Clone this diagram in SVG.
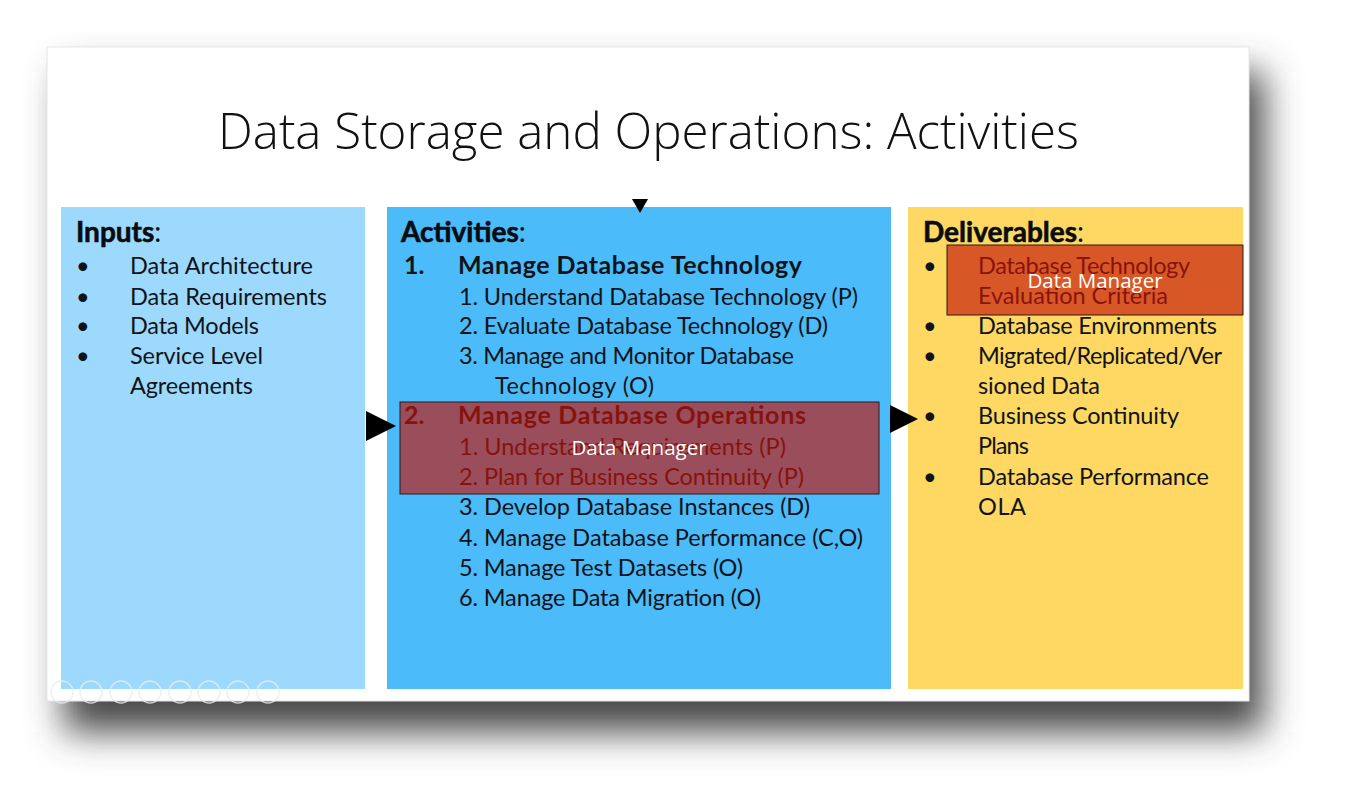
<svg xmlns="http://www.w3.org/2000/svg" width="1345" height="797" viewBox="0 0 1345 797">
<defs>
<filter id="sh" x="-10%" y="-10%" width="120%" height="130%">
<feGaussianBlur stdDeviation="18"/>
</filter>
<style>
.t{font-family:Lato,"Liberation Sans",sans-serif;font-size:23.5px;fill:#101418}
.h{font-family:Lato,"Liberation Sans",sans-serif;font-size:28px;fill:#0a0c10}
.b{font-weight:bold}
.bb{font-weight:bold;font-size:25px}
.dm{font-family:"Open Sans","Liberation Sans",sans-serif;font-size:20.5px;fill:#ffffff;text-anchor:middle}
.ov{fill:rgb(196,20,8);fill-opacity:0.66;stroke:#2a1a1a;stroke-width:1}
.ic{fill:none;stroke:#e8eef2;stroke-width:1.5;opacity:0.8}
</style>
</defs>
<rect x="0" y="0" width="1345" height="797" fill="#ffffff"/>
<rect x="64" y="72" width="1200" height="660" fill="#4a4a4a" filter="url(#sh)"/>
<rect x="47" y="47" width="1202" height="654" fill="#ffffff" stroke="#e6e6e6" stroke-width="1"/>
<text x="218" y="149" font-family="'Open Sans','Liberation Sans',sans-serif" font-weight="300" font-size="49" fill="#111" textLength="861" lengthAdjust="spacingAndGlyphs">Data Storage and Operations: Activities</text>

<g id="inputs">
<rect x="61" y="207" width="304" height="482" fill="#9dd9fd"/>
<text class="h" x="76" y="242"><tspan class="b" stroke="#0a0c10" stroke-width="0.6">Inputs</tspan>:</text>
<text class="t" x="76" y="274">•</text><text class="t" x="130" y="274" textLength="183">Data Architecture</text>
<text class="t" x="76" y="305">•</text><text class="t" x="130" y="305" textLength="197">Data Requirements</text>
<text class="t" x="76" y="334">•</text><text class="t" x="130" y="334" textLength="129">Data Models</text>
<text class="t" x="76" y="364">•</text><text class="t" x="130" y="364" textLength="133">Service Level</text>
<text class="t" x="130" y="394" textLength="123">Agreements</text>
</g>

<g id="activities">
<rect x="387" y="207" width="504" height="482" fill="#4bbbfa"/>
<text class="h" x="401" y="242"><tspan class="b" stroke="#0a0c10" stroke-width="0.6">Activities</tspan>:</text>
<text class="t bb" x="404" y="274">1.</text><text class="t bb" x="458" y="274" textLength="344">Manage Database Technology</text>
<text class="t" x="459" y="305" textLength="399">1. Understand Database Technology (P)</text>
<text class="t" x="459" y="334" textLength="369">2. Evaluate Database Technology (D)</text>
<text class="t" x="459" y="364" textLength="335">3. Manage and Monitor Database</text>
<text class="t" x="495" y="394" textLength="159">Technology (O)</text>
<text class="t bb" x="404" y="424">2.</text><text class="t bb" x="458" y="424" textLength="348">Manage Database Operations</text>
<text class="t" x="459" y="455" textLength="327">1. Understand Requirements (P)</text>
<text class="t" x="459" y="485" textLength="345">2. Plan for Business Continuity (P)</text>
<text class="t" x="459" y="515" textLength="351">3. Develop Database Instances (D)</text>
<text class="t" x="459" y="546" textLength="404">4. Manage Database Performance (C,O)</text>
<text class="t" x="459" y="576" textLength="284">5. Manage Test Datasets (O)</text>
<text class="t" x="459" y="606" textLength="302">6. Manage Data Migration (O)</text>
</g>

<g id="deliverables">
<rect x="908" y="207" width="335" height="482" fill="#fed863"/>
<text class="h" x="923" y="242"><tspan class="b" stroke="#0a0c10" stroke-width="0.6">Deliverables</tspan>:</text>
<text class="t" x="923" y="274">•</text><text class="t" x="978" y="274" textLength="212">Database Technology</text>
<text class="t" x="978" y="304" textLength="190">Evaluation Criteria</text>
<text class="t" x="923" y="334">•</text><text class="t" x="978" y="334" textLength="239">Database Environments</text>
<text class="t" x="923" y="364">•</text><text class="t" x="978" y="364" textLength="244">Migrated/Replicated/Ver</text>
<text class="t" x="978" y="394" textLength="122">sioned Data</text>
<text class="t" x="923" y="424">•</text><text class="t" x="978" y="424" textLength="201">Business Continuity</text>
<text class="t" x="978" y="454" textLength="51">Plans</text>
<text class="t" x="923" y="485">•</text><text class="t" x="978" y="485" textLength="231">Database Performance</text>
<text class="t" x="978" y="515" textLength="48">OLA</text>
</g>

<g id="connectors">
<polygon points="632,199 648,199 640,213" fill="#000"/>
<polygon points="366,411 366,441 396,426" fill="#000"/>
<polygon points="890,405 890,433 918,419" fill="#000"/>
</g>

<g id="overlay-operations">
<rect class="ov" x="400" y="402" width="479" height="92"/>
<text class="dm" x="639" y="455">Data Manager</text>
</g>
<g id="overlay-deliverable">
<rect class="ov" x="947" y="245" width="296" height="70"/>
<text class="dm" x="1095" y="288">Data Manager</text>
</g>

<g id="toolbar">
<circle class="ic" cx="62" cy="692" r="11"/>
<circle class="ic" cx="91" cy="692" r="11"/>
<circle class="ic" cx="121" cy="692" r="11"/>
<circle class="ic" cx="150" cy="692" r="11"/>
<circle class="ic" cx="180" cy="692" r="11"/>
<circle class="ic" cx="209" cy="692" r="11"/>
<circle class="ic" cx="238" cy="692" r="11"/>
<circle class="ic" cx="268" cy="692" r="11"/>
</g>
</svg>
